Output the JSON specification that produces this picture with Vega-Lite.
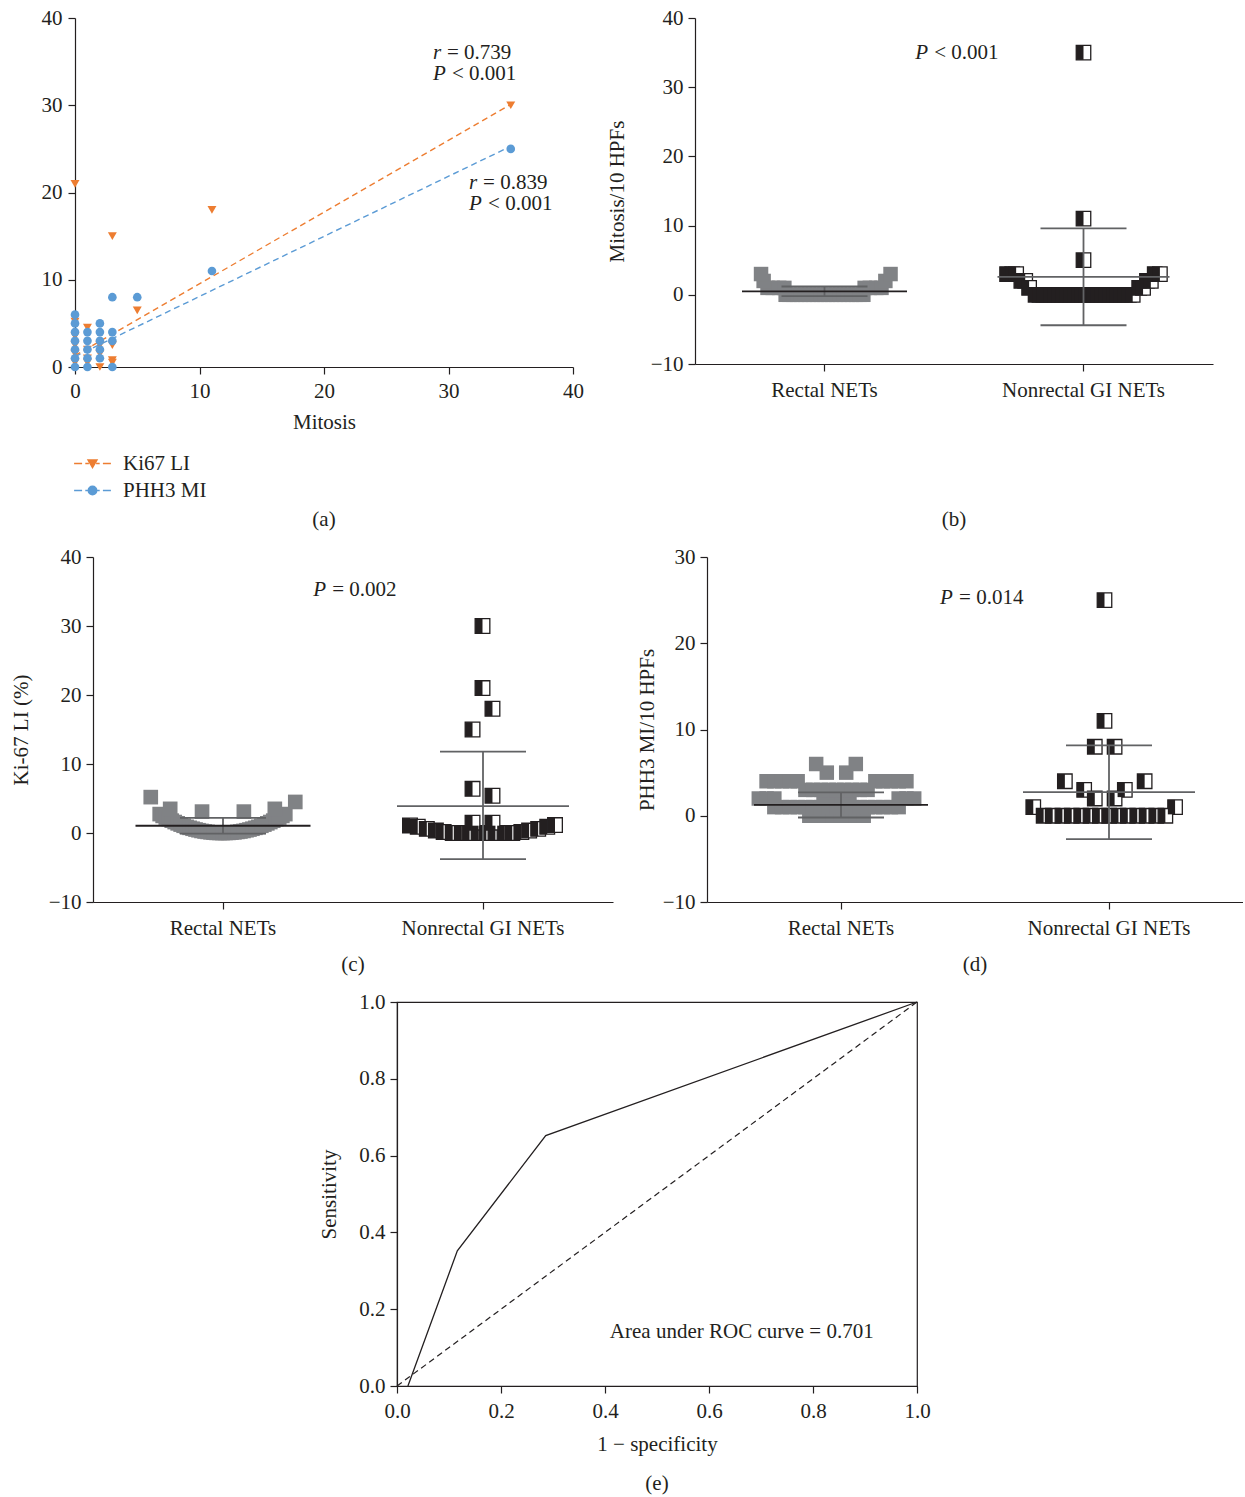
{
  "$schema": "https://vega.github.io/schema/vega-lite/v6.json",
  "padding": {"left": 10, "top": 7, "right": 0, "bottom": 0},
  "background": "white",
  "config": {
    "font": "Liberation Serif",
    "view": {"stroke": null},
    "axis": {"labelFont": "Liberation Serif", "titleFont": "Liberation Serif", "labelFontSize": 21, "titleFontSize": 21, "titleFontWeight": "normal", "labelColor": "#231F20", "titleColor": "#231F20", "domainColor": "#231F20", "tickColor": "#231F20", "domainWidth": 1.2, "tickWidth": 1.2, "tickSize": 7, "grid": false, "labelPadding": 5, "labelFlush": false, "labelOverlap": false},
    "legend": {"labelFont": "Liberation Serif", "labelFontSize": 21, "labelColor": "#231F20"},
    "title": {"font": "Liberation Serif", "fontSize": 21, "fontWeight": "normal", "color": "#231F20", "orient": "bottom", "anchor": "middle"},
    "text": {"font": "Liberation Serif", "fontSize": 21, "color": "#231F20"}
  },
  "datasets": {
    "a_lines": [
      {"series": "Ki67 LI", "mitosis": 0, "value": 1.3}, {"series": "Ki67 LI", "mitosis": 35, "value": 30.1},
      {"series": "PHH3 MI", "mitosis": 0, "value": 1.2}, {"series": "PHH3 MI", "mitosis": 35, "value": 25.3}
    ],
    "a_points": [
      {"series": "Ki67 LI", "mitosis": 0, "value": 21}, {"series": "Ki67 LI", "mitosis": 0, "value": 0.5}, {"series": "Ki67 LI", "mitosis": 0, "value": 1.5}, {"series": "Ki67 LI", "mitosis": 0, "value": 2.5}, {"series": "Ki67 LI", "mitosis": 0, "value": 3.5}, {"series": "Ki67 LI", "mitosis": 0, "value": 5.2},
      {"series": "Ki67 LI", "mitosis": 1, "value": 4.5}, {"series": "Ki67 LI", "mitosis": 1, "value": 2}, {"series": "Ki67 LI", "mitosis": 1, "value": 1}, {"series": "Ki67 LI", "mitosis": 1, "value": 0.5},
      {"series": "Ki67 LI", "mitosis": 2, "value": 0}, {"series": "Ki67 LI", "mitosis": 2, "value": 1.5}, {"series": "Ki67 LI", "mitosis": 2, "value": 2.5},
      {"series": "Ki67 LI", "mitosis": 3, "value": 15}, {"series": "Ki67 LI", "mitosis": 3, "value": 2.5}, {"series": "Ki67 LI", "mitosis": 3, "value": 0.8}, {"series": "Ki67 LI", "mitosis": 3, "value": 0.5},
      {"series": "Ki67 LI", "mitosis": 5, "value": 6.5}, {"series": "Ki67 LI", "mitosis": 11, "value": 18}, {"series": "Ki67 LI", "mitosis": 35, "value": 30},
      {"series": "PHH3 MI", "mitosis": 0, "value": 0}, {"series": "PHH3 MI", "mitosis": 0, "value": 1}, {"series": "PHH3 MI", "mitosis": 0, "value": 2}, {"series": "PHH3 MI", "mitosis": 0, "value": 3}, {"series": "PHH3 MI", "mitosis": 0, "value": 4}, {"series": "PHH3 MI", "mitosis": 0, "value": 5}, {"series": "PHH3 MI", "mitosis": 0, "value": 6},
      {"series": "PHH3 MI", "mitosis": 1, "value": 0}, {"series": "PHH3 MI", "mitosis": 1, "value": 1}, {"series": "PHH3 MI", "mitosis": 1, "value": 2}, {"series": "PHH3 MI", "mitosis": 1, "value": 3}, {"series": "PHH3 MI", "mitosis": 1, "value": 4},
      {"series": "PHH3 MI", "mitosis": 2, "value": 1}, {"series": "PHH3 MI", "mitosis": 2, "value": 2}, {"series": "PHH3 MI", "mitosis": 2, "value": 3}, {"series": "PHH3 MI", "mitosis": 2, "value": 4}, {"series": "PHH3 MI", "mitosis": 2, "value": 5},
      {"series": "PHH3 MI", "mitosis": 3, "value": 0}, {"series": "PHH3 MI", "mitosis": 3, "value": 3}, {"series": "PHH3 MI", "mitosis": 3, "value": 4}, {"series": "PHH3 MI", "mitosis": 3, "value": 8},
      {"series": "PHH3 MI", "mitosis": 5, "value": 8}, {"series": "PHH3 MI", "mitosis": 11, "value": 11}, {"series": "PHH3 MI", "mitosis": 35, "value": 25}
    ],
    "a_text": [
      {"key": "r", "rest": "= 0.739", "mitosis": 28.75, "value": 36.0},
      {"key": "P", "rest": "< 0.001", "mitosis": 28.75, "value": 33.6},
      {"key": "r", "rest": "= 0.839", "mitosis": 31.65, "value": 21.1},
      {"key": "P", "rest": "< 0.001", "mitosis": 31.65, "value": 18.7}
    ],
    "b_points": [
      {"group": "Rectal NETs", "jit": -0.30, "value": 0}, {"group": "Rectal NETs", "jit": -0.27, "value": 0}, {"group": "Rectal NETs", "jit": -0.24, "value": 0}, {"group": "Rectal NETs", "jit": -0.21, "value": 0}, {"group": "Rectal NETs", "jit": -0.18, "value": 0}, {"group": "Rectal NETs", "jit": -0.15, "value": 0}, {"group": "Rectal NETs", "jit": -0.12, "value": 0}, {"group": "Rectal NETs", "jit": -0.09, "value": 0}, {"group": "Rectal NETs", "jit": -0.06, "value": 0}, {"group": "Rectal NETs", "jit": -0.03, "value": 0}, {"group": "Rectal NETs", "jit": 0, "value": 0}, {"group": "Rectal NETs", "jit": 0.03, "value": 0}, {"group": "Rectal NETs", "jit": 0.06, "value": 0}, {"group": "Rectal NETs", "jit": 0.09, "value": 0}, {"group": "Rectal NETs", "jit": 0.12, "value": 0}, {"group": "Rectal NETs", "jit": 0.15, "value": 0}, {"group": "Rectal NETs", "jit": 0.18, "value": 0}, {"group": "Rectal NETs", "jit": 0.21, "value": 0}, {"group": "Rectal NETs", "jit": 0.24, "value": 0}, {"group": "Rectal NETs", "jit": 0.27, "value": 0}, {"group": "Rectal NETs", "jit": 0.30, "value": 0},
      {"group": "Rectal NETs", "jit": -0.44, "value": 1}, {"group": "Rectal NETs", "jit": -0.40, "value": 1}, {"group": "Rectal NETs", "jit": -0.35, "value": 1}, {"group": "Rectal NETs", "jit": -0.31, "value": 1}, {"group": "Rectal NETs", "jit": 0.31, "value": 1}, {"group": "Rectal NETs", "jit": 0.35, "value": 1}, {"group": "Rectal NETs", "jit": 0.40, "value": 1}, {"group": "Rectal NETs", "jit": 0.44, "value": 1},
      {"group": "Rectal NETs", "jit": -0.47, "value": 2}, {"group": "Rectal NETs", "jit": 0.47, "value": 2},
      {"group": "Rectal NETs", "jit": -0.49, "value": 3}, {"group": "Rectal NETs", "jit": 0.51, "value": 3},
      {"group": "Nonrectal GI NETs", "jit": 0, "value": 35}, {"group": "Nonrectal GI NETs", "jit": 0, "value": 11}, {"group": "Nonrectal GI NETs", "jit": 0, "value": 5},
      {"group": "Nonrectal GI NETs", "jit": -0.59, "value": 3}, {"group": "Nonrectal GI NETs", "jit": -0.55, "value": 3}, {"group": "Nonrectal GI NETs", "jit": -0.52, "value": 3},
      {"group": "Nonrectal GI NETs", "jit": -0.48, "value": 2}, {"group": "Nonrectal GI NETs", "jit": -0.45, "value": 2}, {"group": "Nonrectal GI NETs", "jit": -0.42, "value": 1},
      {"group": "Nonrectal GI NETs", "jit": -0.37, "value": 0}, {"group": "Nonrectal GI NETs", "jit": -0.34, "value": 0}, {"group": "Nonrectal GI NETs", "jit": -0.31, "value": 0}, {"group": "Nonrectal GI NETs", "jit": -0.28, "value": 0}, {"group": "Nonrectal GI NETs", "jit": -0.25, "value": 0}, {"group": "Nonrectal GI NETs", "jit": -0.22, "value": 0}, {"group": "Nonrectal GI NETs", "jit": -0.19, "value": 0}, {"group": "Nonrectal GI NETs", "jit": -0.16, "value": 0}, {"group": "Nonrectal GI NETs", "jit": -0.13, "value": 0}, {"group": "Nonrectal GI NETs", "jit": -0.10, "value": 0}, {"group": "Nonrectal GI NETs", "jit": -0.07, "value": 0}, {"group": "Nonrectal GI NETs", "jit": -0.04, "value": 0}, {"group": "Nonrectal GI NETs", "jit": -0.01, "value": 0}, {"group": "Nonrectal GI NETs", "jit": 0.02, "value": 0}, {"group": "Nonrectal GI NETs", "jit": 0.05, "value": 0}, {"group": "Nonrectal GI NETs", "jit": 0.08, "value": 0}, {"group": "Nonrectal GI NETs", "jit": 0.11, "value": 0}, {"group": "Nonrectal GI NETs", "jit": 0.14, "value": 0}, {"group": "Nonrectal GI NETs", "jit": 0.17, "value": 0}, {"group": "Nonrectal GI NETs", "jit": 0.20, "value": 0}, {"group": "Nonrectal GI NETs", "jit": 0.23, "value": 0}, {"group": "Nonrectal GI NETs", "jit": 0.26, "value": 0}, {"group": "Nonrectal GI NETs", "jit": 0.29, "value": 0}, {"group": "Nonrectal GI NETs", "jit": 0.32, "value": 0}, {"group": "Nonrectal GI NETs", "jit": 0.35, "value": 0}, {"group": "Nonrectal GI NETs", "jit": 0.38, "value": 0},
      {"group": "Nonrectal GI NETs", "jit": 0.43, "value": 1}, {"group": "Nonrectal GI NETs", "jit": 0.46, "value": 1}, {"group": "Nonrectal GI NETs", "jit": 0.49, "value": 2}, {"group": "Nonrectal GI NETs", "jit": 0.52, "value": 2}, {"group": "Nonrectal GI NETs", "jit": 0.55, "value": 3}, {"group": "Nonrectal GI NETs", "jit": 0.59, "value": 3}
    ],
    "b_stats": [
      {"group": "Rectal NETs", "mean": 0.5, "lo": -0.2, "hi": 1.2},
      {"group": "Nonrectal GI NETs", "mean": 2.6, "lo": -4.4, "hi": 9.6}
    ],
    "b_text": [{"group": "Rectal NETs", "jit": 0.70, "value": 35.0, "key": "P", "rest": "< 0.001"}],
    "c_points": [
      {"group": "Rectal NETs", "jit": -0.485, "value": 2.74}, {"group": "Rectal NETs", "jit": -0.462, "value": 2.48}, {"group": "Rectal NETs", "jit": -0.438, "value": 2.24}, {"group": "Rectal NETs", "jit": -0.415, "value": 2.01}, {"group": "Rectal NETs", "jit": -0.392, "value": 1.79}, {"group": "Rectal NETs", "jit": -0.369, "value": 1.59}, {"group": "Rectal NETs", "jit": -0.346, "value": 1.40}, {"group": "Rectal NETs", "jit": -0.323, "value": 1.22}, {"group": "Rectal NETs", "jit": -0.300, "value": 1.05}, {"group": "Rectal NETs", "jit": -0.277, "value": 0.89}, {"group": "Rectal NETs", "jit": -0.254, "value": 0.75}, {"group": "Rectal NETs", "jit": -0.231, "value": 0.62}, {"group": "Rectal NETs", "jit": -0.208, "value": 0.50}, {"group": "Rectal NETs", "jit": -0.185, "value": 0.40}, {"group": "Rectal NETs", "jit": -0.162, "value": 0.30}, {"group": "Rectal NETs", "jit": -0.138, "value": 0.22}, {"group": "Rectal NETs", "jit": -0.115, "value": 0.16}, {"group": "Rectal NETs", "jit": -0.092, "value": 0.10}, {"group": "Rectal NETs", "jit": -0.069, "value": 0.06}, {"group": "Rectal NETs", "jit": -0.046, "value": 0.02}, {"group": "Rectal NETs", "jit": -0.023, "value": 0.01}, {"group": "Rectal NETs", "jit": 0, "value": 0},
      {"group": "Rectal NETs", "jit": 0.023, "value": 0.01}, {"group": "Rectal NETs", "jit": 0.046, "value": 0.02}, {"group": "Rectal NETs", "jit": 0.069, "value": 0.06}, {"group": "Rectal NETs", "jit": 0.092, "value": 0.10}, {"group": "Rectal NETs", "jit": 0.115, "value": 0.16}, {"group": "Rectal NETs", "jit": 0.138, "value": 0.22}, {"group": "Rectal NETs", "jit": 0.162, "value": 0.30}, {"group": "Rectal NETs", "jit": 0.185, "value": 0.40}, {"group": "Rectal NETs", "jit": 0.208, "value": 0.50}, {"group": "Rectal NETs", "jit": 0.231, "value": 0.62}, {"group": "Rectal NETs", "jit": 0.254, "value": 0.75}, {"group": "Rectal NETs", "jit": 0.277, "value": 0.89}, {"group": "Rectal NETs", "jit": 0.300, "value": 1.05}, {"group": "Rectal NETs", "jit": 0.323, "value": 1.22}, {"group": "Rectal NETs", "jit": 0.346, "value": 1.40}, {"group": "Rectal NETs", "jit": 0.369, "value": 1.59}, {"group": "Rectal NETs", "jit": 0.392, "value": 1.79}, {"group": "Rectal NETs", "jit": 0.415, "value": 2.01}, {"group": "Rectal NETs", "jit": 0.438, "value": 2.24}, {"group": "Rectal NETs", "jit": 0.462, "value": 2.48}, {"group": "Rectal NETs", "jit": 0.485, "value": 2.74},
      {"group": "Rectal NETs", "jit": -0.554, "value": 5.2}, {"group": "Rectal NETs", "jit": -0.404, "value": 3.5}, {"group": "Rectal NETs", "jit": -0.158, "value": 3.1}, {"group": "Rectal NETs", "jit": 0.165, "value": 3.1}, {"group": "Rectal NETs", "jit": 0.404, "value": 3.5}, {"group": "Rectal NETs", "jit": 0.562, "value": 4.5},
      {"group": "Nonrectal GI NETs", "jit": -0.56, "value": 1.1}, {"group": "Nonrectal GI NETs", "jit": -0.50, "value": 0.9}, {"group": "Nonrectal GI NETs", "jit": -0.43, "value": 0.6}, {"group": "Nonrectal GI NETs", "jit": -0.36, "value": 0.35}, {"group": "Nonrectal GI NETs", "jit": -0.30, "value": 0.15}, {"group": "Nonrectal GI NETs", "jit": -0.23, "value": 0}, {"group": "Nonrectal GI NETs", "jit": -0.16, "value": 0}, {"group": "Nonrectal GI NETs", "jit": -0.10, "value": 0}, {"group": "Nonrectal GI NETs", "jit": -0.03, "value": 0}, {"group": "Nonrectal GI NETs", "jit": 0.03, "value": 0}, {"group": "Nonrectal GI NETs", "jit": 0.10, "value": 0}, {"group": "Nonrectal GI NETs", "jit": 0.17, "value": 0}, {"group": "Nonrectal GI NETs", "jit": 0.23, "value": 0}, {"group": "Nonrectal GI NETs", "jit": 0.30, "value": 0.15}, {"group": "Nonrectal GI NETs", "jit": 0.36, "value": 0.35}, {"group": "Nonrectal GI NETs", "jit": 0.43, "value": 0.6}, {"group": "Nonrectal GI NETs", "jit": 0.50, "value": 0.9}, {"group": "Nonrectal GI NETs", "jit": 0.56, "value": 1.15},
      {"group": "Nonrectal GI NETs", "jit": -0.077, "value": 1.5}, {"group": "Nonrectal GI NETs", "jit": 0.077, "value": 1.5},
      {"group": "Nonrectal GI NETs", "jit": -0.077, "value": 6.4}, {"group": "Nonrectal GI NETs", "jit": 0.077, "value": 5.4},
      {"group": "Nonrectal GI NETs", "jit": -0.077, "value": 15}, {"group": "Nonrectal GI NETs", "jit": 0.077, "value": 18},
      {"group": "Nonrectal GI NETs", "jit": 0, "value": 21}, {"group": "Nonrectal GI NETs", "jit": 0, "value": 30}
    ],
    "c_stats": [
      {"group": "Rectal NETs", "mean": 1.05, "lo": -0.1, "hi": 2.2},
      {"group": "Nonrectal GI NETs", "mean": 3.9, "lo": -3.8, "hi": 11.8}
    ],
    "c_text": [{"group": "Rectal NETs", "jit": 0.70, "value": 35.2, "key": "P", "rest": "= 0.002"}],
    "d_points": [
      {"group": "Rectal NETs", "jit": -0.21, "value": 0}, {"group": "Rectal NETs", "jit": -0.15, "value": 0}, {"group": "Rectal NETs", "jit": -0.09, "value": 0}, {"group": "Rectal NETs", "jit": -0.03, "value": 0}, {"group": "Rectal NETs", "jit": 0.03, "value": 0}, {"group": "Rectal NETs", "jit": 0.09, "value": 0}, {"group": "Rectal NETs", "jit": 0.15, "value": 0}, {"group": "Rectal NETs", "jit": 0.21, "value": 0},
      {"group": "Rectal NETs", "jit": -0.48, "value": 1}, {"group": "Rectal NETs", "jit": -0.42, "value": 1}, {"group": "Rectal NETs", "jit": -0.36, "value": 1}, {"group": "Rectal NETs", "jit": -0.30, "value": 1}, {"group": "Rectal NETs", "jit": -0.24, "value": 1}, {"group": "Rectal NETs", "jit": -0.18, "value": 1}, {"group": "Rectal NETs", "jit": -0.12, "value": 1}, {"group": "Rectal NETs", "jit": -0.06, "value": 1}, {"group": "Rectal NETs", "jit": 0, "value": 1}, {"group": "Rectal NETs", "jit": 0.06, "value": 1}, {"group": "Rectal NETs", "jit": 0.12, "value": 1}, {"group": "Rectal NETs", "jit": 0.18, "value": 1}, {"group": "Rectal NETs", "jit": 0.24, "value": 1}, {"group": "Rectal NETs", "jit": 0.30, "value": 1}, {"group": "Rectal NETs", "jit": 0.36, "value": 1}, {"group": "Rectal NETs", "jit": 0.42, "value": 1}, {"group": "Rectal NETs", "jit": 0.48, "value": 1},
      {"group": "Rectal NETs", "jit": -0.60, "value": 2}, {"group": "Rectal NETs", "jit": -0.54, "value": 2}, {"group": "Rectal NETs", "jit": -0.48, "value": 2}, {"group": "Rectal NETs", "jit": -0.10, "value": 2}, {"group": "Rectal NETs", "jit": -0.04, "value": 2}, {"group": "Rectal NETs", "jit": 0.04, "value": 2}, {"group": "Rectal NETs", "jit": 0.10, "value": 2}, {"group": "Rectal NETs", "jit": 0.48, "value": 2}, {"group": "Rectal NETs", "jit": 0.54, "value": 2}, {"group": "Rectal NETs", "jit": 0.60, "value": 2},
      {"group": "Rectal NETs", "jit": -0.24, "value": 3}, {"group": "Rectal NETs", "jit": -0.18, "value": 3}, {"group": "Rectal NETs", "jit": -0.12, "value": 3}, {"group": "Rectal NETs", "jit": -0.06, "value": 3}, {"group": "Rectal NETs", "jit": 0, "value": 3}, {"group": "Rectal NETs", "jit": 0.06, "value": 3}, {"group": "Rectal NETs", "jit": 0.12, "value": 3}, {"group": "Rectal NETs", "jit": 0.18, "value": 3}, {"group": "Rectal NETs", "jit": 0.24, "value": 3},
      {"group": "Rectal NETs", "jit": -0.54, "value": 4}, {"group": "Rectal NETs", "jit": -0.48, "value": 4}, {"group": "Rectal NETs", "jit": -0.42, "value": 4}, {"group": "Rectal NETs", "jit": -0.36, "value": 4}, {"group": "Rectal NETs", "jit": -0.30, "value": 4}, {"group": "Rectal NETs", "jit": 0.30, "value": 4}, {"group": "Rectal NETs", "jit": 0.36, "value": 4}, {"group": "Rectal NETs", "jit": 0.42, "value": 4}, {"group": "Rectal NETs", "jit": 0.48, "value": 4}, {"group": "Rectal NETs", "jit": 0.54, "value": 4},
      {"group": "Rectal NETs", "jit": -0.075, "value": 5}, {"group": "Rectal NETs", "jit": 0.075, "value": 5}, {"group": "Rectal NETs", "jit": -0.157, "value": 6}, {"group": "Rectal NETs", "jit": 0.149, "value": 6},
      {"group": "Nonrectal GI NETs", "jit": 0, "value": 25}, {"group": "Nonrectal GI NETs", "jit": 0, "value": 11}, {"group": "Nonrectal GI NETs", "jit": -0.075, "value": 8}, {"group": "Nonrectal GI NETs", "jit": 0.078, "value": 8},
      {"group": "Nonrectal GI NETs", "jit": -0.306, "value": 4}, {"group": "Nonrectal GI NETs", "jit": 0.31, "value": 4}, {"group": "Nonrectal GI NETs", "jit": -0.157, "value": 3}, {"group": "Nonrectal GI NETs", "jit": 0.157, "value": 3}, {"group": "Nonrectal GI NETs", "jit": -0.075, "value": 2}, {"group": "Nonrectal GI NETs", "jit": 0.078, "value": 2}, {"group": "Nonrectal GI NETs", "jit": -0.55, "value": 1}, {"group": "Nonrectal GI NETs", "jit": 0.545, "value": 1},
      {"group": "Nonrectal GI NETs", "jit": -0.47, "value": 0}, {"group": "Nonrectal GI NETs", "jit": -0.40, "value": 0}, {"group": "Nonrectal GI NETs", "jit": -0.325, "value": 0}, {"group": "Nonrectal GI NETs", "jit": -0.253, "value": 0}, {"group": "Nonrectal GI NETs", "jit": -0.18, "value": 0}, {"group": "Nonrectal GI NETs", "jit": -0.108, "value": 0}, {"group": "Nonrectal GI NETs", "jit": -0.036, "value": 0}, {"group": "Nonrectal GI NETs", "jit": 0.036, "value": 0}, {"group": "Nonrectal GI NETs", "jit": 0.108, "value": 0}, {"group": "Nonrectal GI NETs", "jit": 0.18, "value": 0}, {"group": "Nonrectal GI NETs", "jit": 0.253, "value": 0}, {"group": "Nonrectal GI NETs", "jit": 0.325, "value": 0}, {"group": "Nonrectal GI NETs", "jit": 0.40, "value": 0}, {"group": "Nonrectal GI NETs", "jit": 0.47, "value": 0}
    ],
    "d_stats": [
      {"group": "Rectal NETs", "mean": 1.25, "lo": -0.2, "hi": 2.7},
      {"group": "Nonrectal GI NETs", "mean": 2.75, "lo": -2.7, "hi": 8.15}
    ],
    "d_text": [{"group": "Rectal NETs", "jit": 0.80, "value": 25.2, "key": "P", "rest": "= 0.014"}],
    "e_diag": [{"fpr": 0, "tpr": 0}, {"fpr": 1, "tpr": 1}],
    "e_roc": [{"fpr": 0.021, "tpr": 0}, {"fpr": 0.116, "tpr": 0.352}, {"fpr": 0.286, "tpr": 0.652}, {"fpr": 1, "tpr": 1}],
    "e_text": [{"label": "Area under ROC curve = 0.701", "fpr": 0.663, "tpr": 0.14}]
  },
  "bounds": "flush",
  "spacing": 539,
  "vconcat": [
    {
      "bounds": "flush",
      "spacing": 122,
      "hconcat": [
        {
          "width": 498, "height": 349,
          "title": {"text": "(a)", "offset": 77},
          "layer": [
            {"data": {"name": "a_lines"}, "transform": [{"filter": "datum.series === 'Ki67 LI'"}], "mark": {"type": "line", "color": "#ED7D31", "strokeDash": [6, 4], "strokeWidth": 1.4},
             "encoding": {
               "x": {"field": "mitosis", "type": "quantitative", "title": "Mitosis", "scale": {"domain": [0, 40], "nice": false}, "axis": {"values": [0, 10, 20, 30, 40], "labelPadding": 6, "titlePadding": 10}},
               "y": {"field": "value", "type": "quantitative", "title": null, "scale": {"domain": [0, 40], "nice": false}, "axis": {"values": [0, 10, 20, 30, 40], "labelPadding": 6}}
             }},
            {"data": {"name": "a_lines"}, "transform": [{"filter": "datum.series === 'PHH3 MI'"}], "mark": {"type": "line", "color": "#5B9BD5", "strokeDash": [6, 4], "strokeWidth": 1.4},
             "encoding": {
               "x": {"field": "mitosis", "type": "quantitative", "title": "Mitosis", "scale": {"domain": [0, 40], "nice": false}},
               "y": {"field": "value", "type": "quantitative", "title": null, "scale": {"domain": [0, 40], "nice": false}}
             }},
            {"data": {"name": "a_points"}, "transform": [{"filter": "datum.series === 'Ki67 LI'"}], "mark": {"type": "point", "filled": true, "opacity": 1, "size": 80, "shape": "triangle-down", "color": "#ED7D31"},
             "encoding": {
               "x": {"field": "mitosis", "type": "quantitative", "title": "Mitosis", "scale": {"domain": [0, 40], "nice": false}},
               "y": {"field": "value", "type": "quantitative", "title": null, "scale": {"domain": [0, 40], "nice": false}}
             }},
            {"data": {"name": "a_points"}, "transform": [{"filter": "datum.series === 'PHH3 MI'"}], "mark": {"type": "point", "filled": true, "opacity": 1, "size": 75, "shape": "circle", "color": "#5B9BD5"},
             "encoding": {
               "x": {"field": "mitosis", "type": "quantitative", "title": "Mitosis", "scale": {"domain": [0, 40], "nice": false}},
               "y": {"field": "value", "type": "quantitative", "title": null, "scale": {"domain": [0, 40], "nice": false}}
             }},
            {"data": {"name": "a_lines"}, "mark": {"type": "point", "filled": true, "opacity": 0, "strokeWidth": 1.5},
             "encoding": {
               "x": {"field": "mitosis", "type": "quantitative", "title": "Mitosis", "scale": {"domain": [0, 40], "nice": false}},
               "y": {"field": "value", "type": "quantitative", "title": null, "scale": {"domain": [0, 40], "nice": false}},
               "fill": {"field": "series", "type": "nominal", "title": null, "scale": {"domain": ["Ki67 LI", "PHH3 MI"], "range": ["#ED7D31", "#5B9BD5"]},
                 "legend": {"orient": "none", "legendX": 7, "legendY": 435, "direction": "vertical", "symbolSize": 64, "labelOffset": 20, "rowPadding": 5, "padding": 0, "symbolOpacity": 1, "symbolStrokeWidth": 1.5}},
               "stroke": {"field": "series", "type": "nominal", "title": null, "scale": {"domain": ["Ki67 LI", "PHH3 MI"], "range": ["#ED7D31", "#5B9BD5"]},
                 "legend": {"orient": "none", "legendX": 7, "legendY": 435, "direction": "vertical", "symbolSize": 64, "labelOffset": 20, "rowPadding": 5, "padding": 0, "symbolOpacity": 1, "symbolStrokeWidth": 1.5}},
               "shape": {"field": "series", "type": "nominal", "title": null, "scale": {"domain": ["Ki67 LI", "PHH3 MI"], "range": ["M-4.6,0H-2.6M-1.8,0H-0.9M0.9,0H1.8M2.6,0H4.6M-1.1,-0.9H1.1L0,1Z", "M-4.6,0H-2.6M-1.8,0H-0.9M0.9,0H1.8M2.6,0H4.6M-1.05,0A1.05,1.05 0 1,0 1.05,0A1.05,1.05 0 1,0 -1.05,0Z"]},
                 "legend": {"orient": "none", "legendX": 7, "legendY": 435, "direction": "vertical", "symbolSize": 64, "labelOffset": 20, "rowPadding": 5, "padding": 0, "symbolOpacity": 1, "symbolStrokeWidth": 1.5}}
             }},
            {"data": {"name": "a_text"}, "mark": {"type": "text", "align": "left", "fontStyle": "italic"},
             "encoding": {"x": {"field": "mitosis", "type": "quantitative", "title": "Mitosis"}, "y": {"field": "value", "type": "quantitative", "title": null}, "text": {"field": "key"}}},
            {"data": {"name": "a_text"}, "transform": [{"filter": "datum.key === 'r'"}], "mark": {"type": "text", "align": "left", "dx": 14},
             "encoding": {"x": {"field": "mitosis", "type": "quantitative", "title": "Mitosis"}, "y": {"field": "value", "type": "quantitative", "title": null}, "text": {"field": "rest"}}},
            {"data": {"name": "a_text"}, "transform": [{"filter": "datum.key === 'P'"}], "mark": {"type": "text", "align": "left", "dx": 19},
             "encoding": {"x": {"field": "mitosis", "type": "quantitative", "title": "Mitosis"}, "y": {"field": "value", "type": "quantitative", "title": null}, "text": {"field": "rest"}}}
          ]
        },
        {
          "width": 518, "height": 346,
          "title": {"text": "(b)", "offset": 109},
          "encoding": {
            "x": {"field": "group", "type": "nominal", "title": null, "sort": null, "scale": {"domain": ["Rectal NETs", "Nonrectal GI NETs"], "paddingInner": 0, "paddingOuter": 0}, "axis": {"labelAngle": 0, "labelPadding": 8}}
          },
          "layer": [
            {"data": {"name": "b_points"}, "transform": [{"filter": "datum.group === 'Rectal NETs'"}], "mark": {"type": "square", "filled": true, "color": "#808285", "opacity": 1, "size": 210},
             "encoding": {"xOffset": {"field": "jit", "type": "quantitative", "scale": {"domain": [-1, 1]}}, "y": {"field": "value", "type": "quantitative", "title": "Mitosis/10 HPFs", "scale": {"domain": [-10, 40], "nice": false}, "axis": {"values": [-10, 0, 10, 20, 30, 40], "titlePadding": 23}}}},
            {"data": {"name": "b_points"}, "transform": [{"filter": "datum.group === 'Nonrectal GI NETs'"}], "mark": {"type": "square", "filled": true, "fill": "white", "stroke": "#231F20", "strokeWidth": 1.3, "opacity": 1, "size": 210},
             "encoding": {"xOffset": {"field": "jit", "type": "quantitative", "scale": {"domain": [-1, 1]}}, "y": {"field": "value", "type": "quantitative", "title": "Mitosis/10 HPFs", "scale": {"domain": [-10, 40], "nice": false}}}},
            {"data": {"name": "b_points"}, "transform": [{"filter": "datum.group === 'Nonrectal GI NETs'"}], "mark": {"type": "point", "shape": "M-1,-1H0V1H-1Z", "filled": true, "color": "#231F20", "opacity": 1, "size": 210},
             "encoding": {"xOffset": {"field": "jit", "type": "quantitative", "scale": {"domain": [-1, 1]}}, "y": {"field": "value", "type": "quantitative", "title": "Mitosis/10 HPFs", "scale": {"domain": [-10, 40], "nice": false}}}},
            {"data": {"name": "b_stats"}, "mark": {"type": "rule", "color": "#616264", "strokeWidth": 1.8},
             "encoding": {"y": {"field": "lo", "type": "quantitative", "title": "Mitosis/10 HPFs", "scale": {"domain": [-10, 40], "nice": false}}, "y2": {"field": "hi"}}},
            {"data": {"name": "b_stats"}, "mark": {"type": "tick", "orient": "horizontal", "size": 86, "thickness": 1.8, "color": "#616264", "opacity": 1},
             "encoding": {"y": {"field": "lo", "type": "quantitative", "title": "Mitosis/10 HPFs", "scale": {"domain": [-10, 40], "nice": false}}}},
            {"data": {"name": "b_stats"}, "mark": {"type": "tick", "orient": "horizontal", "size": 86, "thickness": 1.8, "color": "#616264", "opacity": 1},
             "encoding": {"y": {"field": "hi", "type": "quantitative", "title": "Mitosis/10 HPFs", "scale": {"domain": [-10, 40], "nice": false}}}},
            {"data": {"name": "b_stats"}, "transform": [{"filter": "datum.group === 'Rectal NETs'"}], "mark": {"type": "tick", "orient": "horizontal", "size": 165, "thickness": 1.8, "color": "#231F20", "opacity": 1},
             "encoding": {"y": {"field": "mean", "type": "quantitative", "title": "Mitosis/10 HPFs", "scale": {"domain": [-10, 40], "nice": false}}}},
            {"data": {"name": "b_stats"}, "transform": [{"filter": "datum.group === 'Nonrectal GI NETs'"}], "mark": {"type": "tick", "orient": "horizontal", "size": 172, "thickness": 1.8, "color": "#616264", "opacity": 1},
             "encoding": {"y": {"field": "mean", "type": "quantitative", "title": "Mitosis/10 HPFs", "scale": {"domain": [-10, 40], "nice": false}}}},
            {"data": {"name": "b_text"}, "mark": {"type": "text", "align": "left", "fontStyle": "italic"},
             "encoding": {"xOffset": {"field": "jit", "type": "quantitative", "scale": {"domain": [-1, 1]}}, "y": {"field": "value", "type": "quantitative", "title": "Mitosis/10 HPFs", "scale": {"domain": [-10, 40], "nice": false}}, "text": {"field": "key"}}},
            {"data": {"name": "b_text"}, "mark": {"type": "text", "align": "left", "dx": 19},
             "encoding": {"xOffset": {"field": "jit", "type": "quantitative", "scale": {"domain": [-1, 1]}}, "y": {"field": "value", "type": "quantitative", "title": "Mitosis/10 HPFs", "scale": {"domain": [-10, 40], "nice": false}}, "text": {"field": "rest"}}}
          ]
        }
      ]
    },
    {
      "bounds": "flush",
      "spacing": 445,
      "vconcat": [
        {
          "bounds": "flush",
          "spacing": 0,
          "hconcat": [
            {"width": 18, "height": 10, "data": {"values": []}, "mark": {"type": "point", "opacity": 0}, "encoding": {}},
            {
              "bounds": "flush",
              "spacing": 94,
              "hconcat": [
                {
                  "width": 520, "height": 345,
                  "title": {"text": "(c)", "offset": 16},
                  "encoding": {
                    "x": {"field": "group", "type": "nominal", "title": null, "sort": null, "scale": {"domain": ["Rectal NETs", "Nonrectal GI NETs"], "paddingInner": 0, "paddingOuter": 0}, "axis": {"labelAngle": 0, "labelPadding": 8}}
                  },
                  "layer": [
                    {"data": {"name": "c_points"}, "transform": [{"filter": "datum.group === 'Rectal NETs'"}], "mark": {"type": "square", "filled": true, "color": "#808285", "opacity": 1, "size": 215},
                     "encoding": {"xOffset": {"field": "jit", "type": "quantitative", "scale": {"domain": [-1, 1]}}, "y": {"field": "value", "type": "quantitative", "title": "Ki-67 LI (%)", "scale": {"domain": [-10, 40], "nice": false}, "axis": {"values": [-10, 0, 10, 20, 30, 40], "titlePadding": 17}}}},
                    {"data": {"name": "c_points"}, "transform": [{"filter": "datum.group === 'Nonrectal GI NETs'"}], "mark": {"type": "square", "filled": true, "fill": "white", "stroke": "#231F20", "strokeWidth": 1.3, "opacity": 1, "size": 215},
                     "encoding": {"xOffset": {"field": "jit", "type": "quantitative", "scale": {"domain": [-1, 1]}}, "y": {"field": "value", "type": "quantitative", "title": "Ki-67 LI (%)", "scale": {"domain": [-10, 40], "nice": false}}}},
                    {"data": {"name": "c_points"}, "transform": [{"filter": "datum.group === 'Nonrectal GI NETs'"}], "mark": {"type": "point", "shape": "M-1,-1H0V1H-1Z", "filled": true, "color": "#231F20", "opacity": 1, "size": 215},
                     "encoding": {"xOffset": {"field": "jit", "type": "quantitative", "scale": {"domain": [-1, 1]}}, "y": {"field": "value", "type": "quantitative", "title": "Ki-67 LI (%)", "scale": {"domain": [-10, 40], "nice": false}}}},
                    {"data": {"name": "c_stats"}, "mark": {"type": "rule", "color": "#616264", "strokeWidth": 1.8},
                     "encoding": {"y": {"field": "lo", "type": "quantitative", "title": "Ki-67 LI (%)", "scale": {"domain": [-10, 40], "nice": false}}, "y2": {"field": "hi"}}},
                    {"data": {"name": "c_stats"}, "mark": {"type": "tick", "orient": "horizontal", "size": 86, "thickness": 1.8, "color": "#616264", "opacity": 1},
                     "encoding": {"y": {"field": "lo", "type": "quantitative", "title": "Ki-67 LI (%)", "scale": {"domain": [-10, 40], "nice": false}}}},
                    {"data": {"name": "c_stats"}, "mark": {"type": "tick", "orient": "horizontal", "size": 86, "thickness": 1.8, "color": "#616264", "opacity": 1},
                     "encoding": {"y": {"field": "hi", "type": "quantitative", "title": "Ki-67 LI (%)", "scale": {"domain": [-10, 40], "nice": false}}}},
                    {"data": {"name": "c_stats"}, "transform": [{"filter": "datum.group === 'Rectal NETs'"}], "mark": {"type": "tick", "orient": "horizontal", "size": 175, "thickness": 1.8, "color": "#231F20", "opacity": 1},
                     "encoding": {"y": {"field": "mean", "type": "quantitative", "title": "Ki-67 LI (%)", "scale": {"domain": [-10, 40], "nice": false}}}},
                    {"data": {"name": "c_stats"}, "transform": [{"filter": "datum.group === 'Nonrectal GI NETs'"}], "mark": {"type": "tick", "orient": "horizontal", "size": 172, "thickness": 1.8, "color": "#616264", "opacity": 1},
                     "encoding": {"y": {"field": "mean", "type": "quantitative", "title": "Ki-67 LI (%)", "scale": {"domain": [-10, 40], "nice": false}}}},
                    {"data": {"name": "c_text"}, "mark": {"type": "text", "align": "left", "fontStyle": "italic"},
                     "encoding": {"xOffset": {"field": "jit", "type": "quantitative", "scale": {"domain": [-1, 1]}}, "y": {"field": "value", "type": "quantitative", "title": "Ki-67 LI (%)", "scale": {"domain": [-10, 40], "nice": false}}, "text": {"field": "key"}}},
                    {"data": {"name": "c_text"}, "mark": {"type": "text", "align": "left", "dx": 19},
                     "encoding": {"xOffset": {"field": "jit", "type": "quantitative", "scale": {"domain": [-1, 1]}}, "y": {"field": "value", "type": "quantitative", "title": "Ki-67 LI (%)", "scale": {"domain": [-10, 40], "nice": false}}, "text": {"field": "rest"}}}
                  ]
                },
                {
                  "width": 536, "height": 345,
                  "title": {"text": "(d)", "offset": 16},
                  "encoding": {
                    "x": {"field": "group", "type": "nominal", "title": null, "sort": null, "scale": {"domain": ["Rectal NETs", "Nonrectal GI NETs"], "paddingInner": 0, "paddingOuter": 0}, "axis": {"labelAngle": 0, "labelPadding": 8}}
                  },
                  "layer": [
                    {"data": {"name": "d_points"}, "transform": [{"filter": "datum.group === 'Rectal NETs'"}], "mark": {"type": "square", "filled": true, "color": "#808285", "opacity": 1, "size": 210},
                     "encoding": {"xOffset": {"field": "jit", "type": "quantitative", "scale": {"domain": [-1, 1]}}, "y": {"field": "value", "type": "quantitative", "title": "PHH3 MI/10 HPFs", "scale": {"domain": [-10, 30], "nice": false}, "axis": {"values": [-10, 0, 10, 20, 30], "titlePadding": 5}}}},
                    {"data": {"name": "d_points"}, "transform": [{"filter": "datum.group === 'Nonrectal GI NETs'"}], "mark": {"type": "square", "filled": true, "fill": "white", "stroke": "#231F20", "strokeWidth": 1.3, "opacity": 1, "size": 210},
                     "encoding": {"xOffset": {"field": "jit", "type": "quantitative", "scale": {"domain": [-1, 1]}}, "y": {"field": "value", "type": "quantitative", "title": "PHH3 MI/10 HPFs", "scale": {"domain": [-10, 30], "nice": false}}}},
                    {"data": {"name": "d_points"}, "transform": [{"filter": "datum.group === 'Nonrectal GI NETs'"}], "mark": {"type": "point", "shape": "M-1,-1H0V1H-1Z", "filled": true, "color": "#231F20", "opacity": 1, "size": 210},
                     "encoding": {"xOffset": {"field": "jit", "type": "quantitative", "scale": {"domain": [-1, 1]}}, "y": {"field": "value", "type": "quantitative", "title": "PHH3 MI/10 HPFs", "scale": {"domain": [-10, 30], "nice": false}}}},
                    {"data": {"name": "d_stats"}, "mark": {"type": "rule", "color": "#616264", "strokeWidth": 1.8},
                     "encoding": {"y": {"field": "lo", "type": "quantitative", "title": "PHH3 MI/10 HPFs", "scale": {"domain": [-10, 30], "nice": false}}, "y2": {"field": "hi"}}},
                    {"data": {"name": "d_stats"}, "mark": {"type": "tick", "orient": "horizontal", "size": 86, "thickness": 1.8, "color": "#616264", "opacity": 1},
                     "encoding": {"y": {"field": "lo", "type": "quantitative", "title": "PHH3 MI/10 HPFs", "scale": {"domain": [-10, 30], "nice": false}}}},
                    {"data": {"name": "d_stats"}, "mark": {"type": "tick", "orient": "horizontal", "size": 86, "thickness": 1.8, "color": "#616264", "opacity": 1},
                     "encoding": {"y": {"field": "hi", "type": "quantitative", "title": "PHH3 MI/10 HPFs", "scale": {"domain": [-10, 30], "nice": false}}}},
                    {"data": {"name": "d_stats"}, "transform": [{"filter": "datum.group === 'Rectal NETs'"}], "mark": {"type": "tick", "orient": "horizontal", "size": 174, "thickness": 1.8, "color": "#231F20", "opacity": 1},
                     "encoding": {"y": {"field": "mean", "type": "quantitative", "title": "PHH3 MI/10 HPFs", "scale": {"domain": [-10, 30], "nice": false}}}},
                    {"data": {"name": "d_stats"}, "transform": [{"filter": "datum.group === 'Nonrectal GI NETs'"}], "mark": {"type": "tick", "orient": "horizontal", "size": 172, "thickness": 1.8, "color": "#616264", "opacity": 1},
                     "encoding": {"y": {"field": "mean", "type": "quantitative", "title": "PHH3 MI/10 HPFs", "scale": {"domain": [-10, 30], "nice": false}}}},
                    {"data": {"name": "d_text"}, "mark": {"type": "text", "align": "left", "fontStyle": "italic"},
                     "encoding": {"xOffset": {"field": "jit", "type": "quantitative", "scale": {"domain": [-1, 1]}}, "y": {"field": "value", "type": "quantitative", "title": "PHH3 MI/10 HPFs", "scale": {"domain": [-10, 30], "nice": false}}, "text": {"field": "key"}}},
                    {"data": {"name": "d_text"}, "mark": {"type": "text", "align": "left", "dx": 19},
                     "encoding": {"xOffset": {"field": "jit", "type": "quantitative", "scale": {"domain": [-1, 1]}}, "y": {"field": "value", "type": "quantitative", "title": "PHH3 MI/10 HPFs", "scale": {"domain": [-10, 30], "nice": false}}, "text": {"field": "rest"}}}
                  ]
                }
              ]
            }
          ]
        },
        {
          "bounds": "flush",
          "spacing": 0,
          "hconcat": [
            {"width": 322, "height": 384, "data": {"values": []}, "mark": {"type": "point", "opacity": 0}, "encoding": {}},
            {
              "width": 520, "height": 384,
              "view": {"stroke": "#231F20", "strokeWidth": 1.2},
              "title": {"text": "(e)", "offset": 19},
              "layer": [
                {"data": {"name": "e_diag"}, "mark": {"type": "line", "strokeDash": [6, 4], "color": "#231F20", "strokeWidth": 1.2},
                 "encoding": {
                   "x": {"field": "fpr", "type": "quantitative", "title": "1 − specificity", "scale": {"domain": [0, 1], "nice": false}, "axis": {"values": [0, 0.2, 0.4, 0.6, 0.8, 1], "format": ".1f", "labelPadding": 7, "titlePadding": 12}},
                   "y": {"field": "tpr", "type": "quantitative", "title": "Sensitivity", "scale": {"domain": [0, 1], "nice": false}, "axis": {"values": [0, 0.2, 0.4, 0.6, 0.8, 1], "format": ".1f", "titlePadding": 19}}
                 }},
                {"data": {"name": "e_roc"}, "mark": {"type": "line", "color": "#231F20", "strokeWidth": 1.3},
                 "encoding": {
                   "x": {"field": "fpr", "type": "quantitative", "title": "1 − specificity", "scale": {"domain": [0, 1], "nice": false}},
                   "y": {"field": "tpr", "type": "quantitative", "title": "Sensitivity", "scale": {"domain": [0, 1], "nice": false}}
                 }},
                {"data": {"name": "e_text"}, "mark": {"type": "text", "align": "center"},
                 "encoding": {
                   "x": {"field": "fpr", "type": "quantitative", "title": "1 − specificity", "scale": {"domain": [0, 1], "nice": false}},
                   "y": {"field": "tpr", "type": "quantitative", "title": "Sensitivity", "scale": {"domain": [0, 1], "nice": false}},
                   "text": {"field": "label"}
                 }}
              ]
            }
          ]
        }
      ]
    }
  ]
}
